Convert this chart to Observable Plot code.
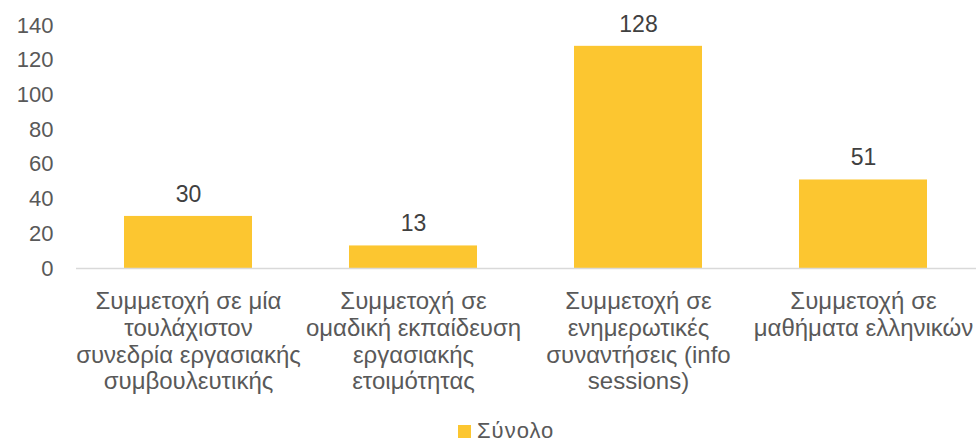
<!DOCTYPE html>
<html>
<head>
<meta charset="utf-8">
<script src="https://cdn.jsdelivr.net/npm/d3@7"></script>
<script src="https://cdn.jsdelivr.net/npm/@observablehq/plot@0.6"></script>
<style>
  body { margin: 0; background: #fff; font-family: "Liberation Sans", Arial, sans-serif; overflow: hidden; }
  #chart { width: 977px; height: 415px; }
  #legend { position: absolute; left: 458px; top: 421px; height: 20px; line-height: 20px; display: flex; align-items: center; font-size: 22px; letter-spacing: 1px; color: #595959; }
  #legend .sw { width: 13px; height: 13px; background: #FCC630; display: inline-block; margin-right: 6px; }
</style>
</head>
<body>
<div id="chart"></div>
<div id="legend"><span class="sw"></span><span id="legend-label"></span></div>
<script>
const categories = [
  "Συμμετοχή σε μία\nτουλάχιστον\nσυνεδρία εργασιακής\nσυμβουλευτικής",
  "Συμμετοχή σε\nομαδική εκπαίδευση\nεργασιακής\nετοιμότητας",
  "Συμμετοχή σε\nενημερωτικές\nσυναντήσεις (info\nsessions)",
  "Συμμετοχή σε\nμαθήματα ελληνικών"
];
const values = [30, 13, 128, 51];
const yTicks = [0, 20, 40, 60, 80, 100, 120, 140];
const seriesName = "Σύνολο";

document.getElementById("legend-label").textContent = seriesName;

const data = categories.map((c, i) => ({category: c, value: values[i]}));

const chart = Plot.plot({
  width: 977,
  height: 415,
  marginTop: 25,
  marginBottom: 147,
  marginLeft: 76,
  marginRight: 1,
  style: {fontFamily: "'Liberation Sans', Arial, sans-serif", fontSize: "22px", color: "#595959", background: "#fff"},
  x: {domain: categories, paddingInner: 0.431, paddingOuter: 0.2155, label: null},
  y: {domain: [0, 140], label: null},
  marks: [
    Plot.barY(data, {x: "category", y: "value", fill: "#FCC630"}),
    Plot.ruleY([0], {stroke: "#D9D9D9", strokeWidth: 1.5}),
    Plot.text(data, {x: "category", y: "value", text: d => String(d.value), dy: -22, fill: "#404040", fontSize: 23}),
    Plot.axisY(yTicks, {tickSize: 0, tickPadding: 23, fontSize: 22, fill: "#595959", label: null}),
    Plot.axisX({tickSize: 0, tickPadding: 22, fontSize: 24, fill: "#595959", lineHeight: 1.11, label: null})
  ]
});
document.getElementById("chart").appendChild(chart);
</script>
</body>
</html>
